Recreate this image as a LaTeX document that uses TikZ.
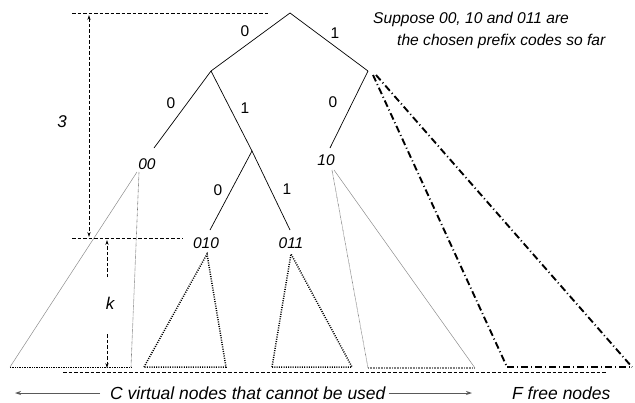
\documentclass[tikz,border=0pt]{standalone}
\usepackage{fontspec}
\setmainfont{Liberation Sans}
\usetikzlibrary{arrows.meta}
\begin{document}
\begin{tikzpicture}[x=1pt,y=-1pt,
  edge/.style={line width=0.7pt},
  elab/.style={font=\fontsize{15.5}{18}\selectfont, inner sep=0pt},
  codelab/.style={font=\fontsize{15.5}{18}\selectfont\itshape, inner sep=0pt},
  bigtext/.style={font=\fontsize{17.5}{20}\selectfont\itshape, inner sep=0pt, anchor=base west},
  toptext/.style={font=\fontsize{15.6}{18}\selectfont\itshape, inner sep=0pt, anchor=base west},
  guide/.style={dash pattern=on 3.5pt off 2pt, line width=0.7pt},
  dimtip/.style={-{Stealth[length=5pt,width=3.2pt]}},
  barrow/.style={draw=black!65, line width=0.9pt, -{Stealth[length=6pt,width=4pt]}},
  graythin/.style={draw=black!45, line width=0.5pt},
  graydot/.style={draw=black!55, line width=0.6pt, dash pattern=on 0.6pt off 0.6pt},
  blackdot/.style={line width=0.7pt, dash pattern=on 0.7pt off 1pt},
  thickdot/.style={line width=1.5pt, dash pattern=on 1pt off 1.3pt},
  dashdot/.style={line width=1.9pt, dash pattern=on 7pt off 3pt on 1pt off 3pt}]
\useasboundingbox (0,0) rectangle (635,402);

% tree vertices
\coordinate (root) at (290,13);
\coordinate (n0) at (211,71);
\coordinate (n1) at (368,71);
\coordinate (n00) at (154,148);
\coordinate (n01) at (252,151);
\coordinate (n10) at (330,148);
\coordinate (n010) at (210,230);
\coordinate (n011) at (290,230);

% tree edges
\draw[edge] (root) -- (n0);
\draw[edge] (root) -- (n1);
\draw[edge] (n0) -- (n00);
\draw[edge] (n0) -- (n01);
\draw[edge] (n1) -- (n10);
\draw[edge] (n01) -- (n010);
\draw[edge] (n01) -- (n011);

% edge labels
\node[elab] (e1) at (245,31) {0};
\node[elab] (e2) at (335,33) {1};
\node[elab] (e3) at (171,103) {0};
\node[elab] (e4) at (245,108) {1};
\node[elab] (e5) at (333,102) {0};
\node[elab] (e6) at (218,190) {0};
\node[elab] (e7) at (287,189) {1};

% code labels
\node[codelab] (c00) at (147,164) {00};
\node[codelab] (c10) at (326,160) {10};
\node[codelab] (c010) at (206,243) {010};
\node[codelab] (c011) at (291,243) {011};

% subtree of 00
\draw[graythin] (137,172) -- (10,367);
\draw[graydot] (139,172) -- (131,367);
\draw[blackdot] (10,367) -- (131,367);

% subtree of 010
\draw[thickdot] (144,367) -- (207,254) -- (226,367) -- cycle;
% subtree of 011
\draw[thickdot] (272,367) -- (291,254) -- (352,367) -- cycle;

% subtree of 10
\draw[graydot] (332,170) -- (368,368);
\draw[graythin] (334,170) -- (475,368);
\draw[draw=black!50, line width=1.2pt, dash pattern=on 0.8pt off 0.8pt] (368,368) -- (475,368);

% free subtree
\draw[dashdot] (373,75) -- (507,367);
\draw[dashdot] (376,75) -- (632,367);
\draw[dashdot] (507,367) -- (632,367);

% guides
\draw[guide] (72,13) -- (268,13);
\draw[guide] (72,238) -- (183,238);
\draw[guide] (63,372) -- (607,372);

\coordinate (d3t) at (89,15);
\coordinate (d3b) at (89,237);
\draw[guide, {Stealth[length=5pt,width=3.2pt]}-{Stealth[length=5pt,width=3.2pt]}] (d3t) -- (d3b);
\node[codelab, font=\fontsize{17}{20}\selectfont\itshape] (three) at (62,122) {3};

\coordinate (dkt) at (107,240);
\coordinate (dkm1) at (107,277);
\coordinate (dkm2) at (107,334);
\coordinate (dkb) at (107,368);
\draw[guide, dimtip] (dkm1) -- (dkt);
\draw[guide, dimtip] (dkm2) -- (dkb);
\node[codelab, font=\fontsize{17}{20}\selectfont\itshape] (kk) at (110,303) {k};

% texts
\node[toptext] (t1) at (373,23) {Suppose 00, 10 and 011 are};
\node[toptext] (t2) at (397,45) {the chosen prefix codes so far};

\node[bigtext] (ctext) at (110,399) {C virtual nodes that cannot be used};
\node[bigtext] (ftext) at (512,399) {F free nodes};
\coordinate (cl) at (15,393);
\coordinate (cr) at (472,393);
\draw[barrow] (100,393) -- (cl);
\draw[barrow] (ctext.east |- cr) ++(3,0) -- (cr);
\end{tikzpicture}
\end{document}
